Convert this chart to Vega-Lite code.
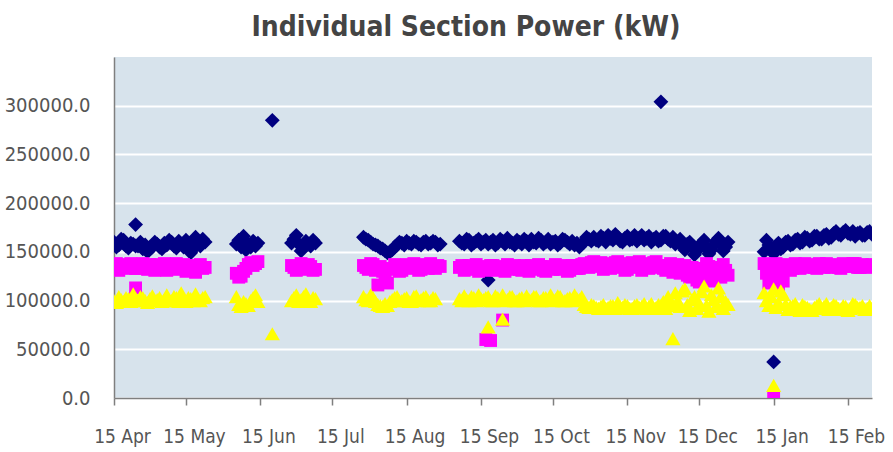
{
  "$schema": "https://vega.github.io/schema/vega-lite/v6.json",
  "width": 758,
  "height": 341,
  "autosize": {"type": "none"},
  "padding": {"left": 114, "top": 57, "right": 21, "bottom": 54},
  "background": "white",
  "title": {"text": "Individual Section Power (kW)", "font": "DejaVu Sans Condensed, DejaVu Sans, sans-serif", "fontSize": 28, "fontWeight": "bold", "color": "#444444", "anchor": "middle", "dx": -27, "offset": 15},
  "config": {"view": {"fill": "#d7e3ec", "stroke": null}},
  "datasets": {
    "navy": [
{"d":"2008-04-15","v":160000},{"d":"2008-04-16","v":155000},{"d":"2008-04-17","v":157000},{"d":"2008-04-18","v":163000},{"d":"2008-04-19","v":162000},{"d":"2008-04-20","v":156000},{"d":"2008-04-21","v":154000},{"d":"2008-04-22","v":159000},{"d":"2008-04-23","v":158000},{"d":"2008-04-24","v":156000},{"d":"2008-04-24","v":178000},{"d":"2008-04-25","v":156000},{"d":"2008-04-26","v":160000},{"d":"2008-04-27","v":153000},{"d":"2008-04-28","v":157000},{"d":"2008-04-29","v":150000},{"d":"2008-04-30","v":153000},
{"d":"2008-05-01","v":155000},{"d":"2008-05-02","v":160000},{"d":"2008-05-03","v":158000},{"d":"2008-05-04","v":155000},{"d":"2008-05-05","v":153000},{"d":"2008-05-06","v":159000},{"d":"2008-05-07","v":157000},{"d":"2008-05-08","v":162000},{"d":"2008-05-09","v":160000},{"d":"2008-05-10","v":156000},{"d":"2008-05-11","v":154000},{"d":"2008-05-12","v":161000},{"d":"2008-05-13","v":158000},{"d":"2008-05-14","v":155000},{"d":"2008-05-15","v":162000},{"d":"2008-05-16","v":157000},{"d":"2008-05-17","v":149000},{"d":"2008-05-18","v":153000},{"d":"2008-05-19","v":165000},{"d":"2008-05-20","v":160000},{"d":"2008-05-21","v":156000},{"d":"2008-05-22","v":163000},{"d":"2008-05-23","v":160000},
{"d":"2008-06-05","v":158000},{"d":"2008-06-06","v":162000},{"d":"2008-06-07","v":155000},{"d":"2008-06-08","v":166000},{"d":"2008-06-09","v":152000},{"d":"2008-06-10","v":157000},{"d":"2008-06-11","v":155000},{"d":"2008-06-12","v":161000},{"d":"2008-06-13","v":156000},{"d":"2008-06-14","v":159000},{"d":"2008-06-20","v":285000},
{"d":"2008-06-28","v":159000},{"d":"2008-06-29","v":163000},{"d":"2008-06-30","v":167000},{"d":"2008-07-01","v":158000},{"d":"2008-07-02","v":151000},{"d":"2008-07-03","v":155000},{"d":"2008-07-04","v":161000},{"d":"2008-07-05","v":158000},{"d":"2008-07-06","v":156000},{"d":"2008-07-07","v":162000},{"d":"2008-07-08","v":159000},
{"d":"2008-07-28","v":165000},{"d":"2008-07-29","v":163000},{"d":"2008-07-30","v":162000},{"d":"2008-07-31","v":160000},{"d":"2008-08-01","v":158000},{"d":"2008-08-02","v":157000},{"d":"2008-08-03","v":156000},{"d":"2008-08-04","v":154000},{"d":"2008-08-05","v":153000},{"d":"2008-08-06","v":151000},{"d":"2008-08-07","v":149000},{"d":"2008-08-08","v":150000},{"d":"2008-08-09","v":152000},{"d":"2008-08-10","v":155000},{"d":"2008-08-11","v":157000},{"d":"2008-08-12","v":160000},{"d":"2008-08-13","v":159000},{"d":"2008-08-14","v":157000},{"d":"2008-08-15","v":161000},{"d":"2008-08-16","v":159000},{"d":"2008-08-17","v":158000},{"d":"2008-08-18","v":161000},{"d":"2008-08-19","v":160000},{"d":"2008-08-20","v":158000},{"d":"2008-08-21","v":157000},{"d":"2008-08-22","v":160000},{"d":"2008-08-23","v":161000},{"d":"2008-08-24","v":158000},{"d":"2008-08-25","v":159000},{"d":"2008-08-26","v":161000},{"d":"2008-08-27","v":160000},{"d":"2008-08-28","v":157000},{"d":"2008-08-29","v":158000},
{"d":"2008-09-06","v":161000},{"d":"2008-09-07","v":159000},{"d":"2008-09-08","v":158000},{"d":"2008-09-09","v":163000},{"d":"2008-09-10","v":162000},{"d":"2008-09-11","v":157000},{"d":"2008-09-12","v":159000},{"d":"2008-09-13","v":161000},{"d":"2008-09-14","v":163000},{"d":"2008-09-15","v":158000},{"d":"2008-09-16","v":160000},{"d":"2008-09-17","v":162000},{"d":"2008-09-18","v":158000},{"d":"2008-09-18","v":121000},{"d":"2008-09-19","v":160000},{"d":"2008-09-20","v":162000},{"d":"2008-09-21","v":157000},{"d":"2008-09-22","v":159000},{"d":"2008-09-23","v":163000},{"d":"2008-09-24","v":161000},{"d":"2008-09-25","v":158000},{"d":"2008-09-26","v":164000},{"d":"2008-09-27","v":160000},{"d":"2008-09-28","v":159000},{"d":"2008-09-29","v":157000},{"d":"2008-09-30","v":162000},
{"d":"2008-10-01","v":160000},{"d":"2008-10-02","v":158000},{"d":"2008-10-03","v":163000},{"d":"2008-10-04","v":161000},{"d":"2008-10-05","v":157000},{"d":"2008-10-06","v":163000},{"d":"2008-10-07","v":160000},{"d":"2008-10-08","v":159000},{"d":"2008-10-09","v":164000},{"d":"2008-10-10","v":162000},{"d":"2008-10-11","v":158000},{"d":"2008-10-12","v":160000},{"d":"2008-10-13","v":163000},{"d":"2008-10-14","v":158000},{"d":"2008-10-15","v":160000},{"d":"2008-10-16","v":161000},{"d":"2008-10-17","v":157000},{"d":"2008-10-18","v":159000},{"d":"2008-10-19","v":163000},{"d":"2008-10-20","v":162000},{"d":"2008-10-21","v":160000},{"d":"2008-10-22","v":158000},{"d":"2008-10-23","v":161000},{"d":"2008-10-24","v":157000},{"d":"2008-10-25","v":159000},{"d":"2008-10-26","v":155000},{"d":"2008-10-27","v":158000},{"d":"2008-10-28","v":160000},{"d":"2008-10-29","v":165000},{"d":"2008-10-30","v":163000},{"d":"2008-10-31","v":161000},
{"d":"2008-11-01","v":165000},{"d":"2008-11-02","v":162000},{"d":"2008-11-03","v":161000},{"d":"2008-11-04","v":166000},{"d":"2008-11-05","v":164000},{"d":"2008-11-06","v":160000},{"d":"2008-11-07","v":167000},{"d":"2008-11-08","v":164000},{"d":"2008-11-09","v":162000},{"d":"2008-11-10","v":168000},{"d":"2008-11-11","v":165000},{"d":"2008-11-12","v":161000},{"d":"2008-11-13","v":160000},{"d":"2008-11-14","v":164000},{"d":"2008-11-15","v":166000},{"d":"2008-11-16","v":162000},{"d":"2008-11-17","v":163000},{"d":"2008-11-18","v":167000},{"d":"2008-11-19","v":161000},{"d":"2008-11-20","v":164000},{"d":"2008-11-21","v":167000},{"d":"2008-11-22","v":162000},{"d":"2008-11-23","v":164000},{"d":"2008-11-24","v":166000},{"d":"2008-11-25","v":160000},{"d":"2008-11-26","v":163000},{"d":"2008-11-27","v":165000},{"d":"2008-11-28","v":161000},{"d":"2008-11-29","v":162000},{"d":"2008-11-29","v":304000},{"d":"2008-11-30","v":166000},
{"d":"2008-12-01","v":166000},{"d":"2008-12-02","v":163000},{"d":"2008-12-03","v":161000},{"d":"2008-12-04","v":165000},{"d":"2008-12-05","v":158000},{"d":"2008-12-06","v":160000},{"d":"2008-12-07","v":163000},{"d":"2008-12-08","v":156000},{"d":"2008-12-09","v":152000},{"d":"2008-12-10","v":158000},{"d":"2008-12-11","v":160000},{"d":"2008-12-12","v":155000},{"d":"2008-12-13","v":147000},{"d":"2008-12-14","v":151000},{"d":"2008-12-15","v":155000},{"d":"2008-12-16","v":159000},{"d":"2008-12-17","v":162000},{"d":"2008-12-18","v":154000},{"d":"2008-12-19","v":148000},{"d":"2008-12-20","v":152000},{"d":"2008-12-21","v":157000},{"d":"2008-12-22","v":161000},{"d":"2008-12-23","v":164000},{"d":"2008-12-24","v":157000},{"d":"2008-12-25","v":151000},{"d":"2008-12-26","v":155000},{"d":"2008-12-27","v":160000},
{"d":"2009-01-11","v":150000},{"d":"2009-01-12","v":162000},{"d":"2009-01-13","v":157000},{"d":"2009-01-14","v":152000},{"d":"2009-01-15","v":148000},{"d":"2009-01-15","v":37000},{"d":"2009-01-16","v":156000},{"d":"2009-01-17","v":159000},{"d":"2009-01-18","v":153000},{"d":"2009-01-19","v":155000},{"d":"2009-01-20","v":160000},{"d":"2009-01-21","v":161000},{"d":"2009-01-22","v":157000},{"d":"2009-01-23","v":158000},{"d":"2009-01-24","v":162000},{"d":"2009-01-25","v":163000},{"d":"2009-01-26","v":159000},{"d":"2009-01-27","v":160000},{"d":"2009-01-28","v":165000},{"d":"2009-01-29","v":164000},{"d":"2009-01-30","v":161000},{"d":"2009-01-31","v":162000},
{"d":"2009-02-01","v":166000},{"d":"2009-02-02","v":166000},{"d":"2009-02-03","v":163000},{"d":"2009-02-04","v":163000},{"d":"2009-02-05","v":167000},{"d":"2009-02-06","v":168000},{"d":"2009-02-07","v":164000},{"d":"2009-02-08","v":165000},{"d":"2009-02-09","v":169000},{"d":"2009-02-10","v":171000},{"d":"2009-02-11","v":168000},{"d":"2009-02-12","v":167000},{"d":"2009-02-13","v":170000},{"d":"2009-02-14","v":172000},{"d":"2009-02-15","v":169000},{"d":"2009-02-16","v":168000},{"d":"2009-02-17","v":171000},{"d":"2009-02-18","v":166000},{"d":"2009-02-19","v":169000},{"d":"2009-02-20","v":170000},{"d":"2009-02-21","v":167000},{"d":"2009-02-22","v":167000},{"d":"2009-02-23","v":170000},{"d":"2009-02-24","v":171000},{"d":"2009-02-25","v":168000}
    ],
    "magenta": [
{"d":"2008-04-15","v":135000},{"d":"2008-04-16","v":138000},{"d":"2008-04-17","v":131000},{"d":"2008-04-18","v":136000},{"d":"2008-04-19","v":137000},{"d":"2008-04-20","v":133000},{"d":"2008-04-21","v":134000},{"d":"2008-04-22","v":138000},{"d":"2008-04-23","v":136000},{"d":"2008-04-24","v":133000},{"d":"2008-04-24","v":113000},{"d":"2008-04-25","v":133000},{"d":"2008-04-26","v":136000},{"d":"2008-04-27","v":138000},{"d":"2008-04-28","v":134000},{"d":"2008-04-29","v":132000},{"d":"2008-04-30","v":137000},
{"d":"2008-05-01","v":135000},{"d":"2008-05-02","v":131000},{"d":"2008-05-03","v":137000},{"d":"2008-05-04","v":135000},{"d":"2008-05-05","v":134000},{"d":"2008-05-06","v":138000},{"d":"2008-05-07","v":131000},{"d":"2008-05-08","v":134000},{"d":"2008-05-09","v":136000},{"d":"2008-05-10","v":132000},{"d":"2008-05-11","v":138000},{"d":"2008-05-12","v":135000},{"d":"2008-05-13","v":133000},{"d":"2008-05-14","v":137000},{"d":"2008-05-15","v":130000},{"d":"2008-05-16","v":134000},{"d":"2008-05-17","v":136000},{"d":"2008-05-18","v":131000},{"d":"2008-05-19","v":129000},{"d":"2008-05-20","v":135000},{"d":"2008-05-21","v":137000},{"d":"2008-05-22","v":133000},{"d":"2008-05-23","v":134000},
{"d":"2008-06-05","v":128000},{"d":"2008-06-06","v":124000},{"d":"2008-06-07","v":125000},{"d":"2008-06-08","v":130000},{"d":"2008-06-09","v":133000},{"d":"2008-06-10","v":137000},{"d":"2008-06-11","v":139000},{"d":"2008-06-12","v":136000},{"d":"2008-06-13","v":138000},{"d":"2008-06-14","v":140000},
{"d":"2008-06-28","v":136000},{"d":"2008-06-29","v":134000},{"d":"2008-06-30","v":131000},{"d":"2008-07-01","v":135000},{"d":"2008-07-02","v":138000},{"d":"2008-07-03","v":132000},{"d":"2008-07-04","v":133000},{"d":"2008-07-05","v":137000},{"d":"2008-07-06","v":135000},{"d":"2008-07-07","v":131000},{"d":"2008-07-08","v":132000},
{"d":"2008-07-28","v":136000},{"d":"2008-07-29","v":134000},{"d":"2008-07-30","v":132000},{"d":"2008-07-31","v":138000},{"d":"2008-08-01","v":137000},{"d":"2008-08-02","v":131000},{"d":"2008-08-03","v":116000},{"d":"2008-08-04","v":135000},{"d":"2008-08-05","v":130000},{"d":"2008-08-06","v":120000},{"d":"2008-08-07","v":118000},{"d":"2008-08-08","v":132000},{"d":"2008-08-09","v":133000},{"d":"2008-08-10","v":137000},{"d":"2008-08-11","v":135000},{"d":"2008-08-12","v":130000},{"d":"2008-08-13","v":131000},{"d":"2008-08-14","v":136000},{"d":"2008-08-15","v":137000},{"d":"2008-08-16","v":133000},{"d":"2008-08-17","v":134000},{"d":"2008-08-18","v":138000},{"d":"2008-08-19","v":136000},{"d":"2008-08-20","v":131000},{"d":"2008-08-21","v":132000},{"d":"2008-08-22","v":137000},{"d":"2008-08-23","v":135000},{"d":"2008-08-24","v":133000},{"d":"2008-08-25","v":138000},{"d":"2008-08-26","v":134000},{"d":"2008-08-27","v":133000},{"d":"2008-08-28","v":136000},{"d":"2008-08-29","v":135000},
{"d":"2008-09-06","v":134000},{"d":"2008-09-07","v":136000},{"d":"2008-09-08","v":131000},{"d":"2008-09-09","v":135000},{"d":"2008-09-10","v":136000},{"d":"2008-09-11","v":132000},{"d":"2008-09-12","v":133000},{"d":"2008-09-13","v":137000},{"d":"2008-09-14","v":130000},{"d":"2008-09-15","v":134000},{"d":"2008-09-16","v":135000},{"d":"2008-09-17","v":131000},{"d":"2008-09-17","v":60000},{"d":"2008-09-18","v":132000},{"d":"2008-09-19","v":136000},{"d":"2008-09-19","v":59000},{"d":"2008-09-20","v":136000},{"d":"2008-09-21","v":133000},{"d":"2008-09-22","v":131000},{"d":"2008-09-23","v":135000},{"d":"2008-09-24","v":134000},{"d":"2008-09-24","v":80000},{"d":"2008-09-25","v":130000},{"d":"2008-09-26","v":137000},{"d":"2008-09-27","v":134000},{"d":"2008-09-28","v":132000},{"d":"2008-09-29","v":136000},{"d":"2008-09-30","v":135000},
{"d":"2008-10-01","v":132000},{"d":"2008-10-02","v":131000},{"d":"2008-10-03","v":136000},{"d":"2008-10-04","v":134000},{"d":"2008-10-05","v":130000},{"d":"2008-10-06","v":136000},{"d":"2008-10-07","v":133000},{"d":"2008-10-08","v":132000},{"d":"2008-10-09","v":137000},{"d":"2008-10-10","v":135000},{"d":"2008-10-11","v":131000},{"d":"2008-10-12","v":130000},{"d":"2008-10-13","v":135000},{"d":"2008-10-14","v":134000},{"d":"2008-10-15","v":132000},{"d":"2008-10-16","v":137000},{"d":"2008-10-17","v":134000},{"d":"2008-10-18","v":132000},{"d":"2008-10-19","v":136000},{"d":"2008-10-20","v":135000},{"d":"2008-10-21","v":130000},{"d":"2008-10-22","v":131000},{"d":"2008-10-23","v":136000},{"d":"2008-10-24","v":136000},{"d":"2008-10-25","v":133000},{"d":"2008-10-26","v":133000},{"d":"2008-10-27","v":137000},{"d":"2008-10-28","v":138000},{"d":"2008-10-29","v":135000},{"d":"2008-10-30","v":134000},{"d":"2008-10-31","v":139000},
{"d":"2008-11-01","v":140000},{"d":"2008-11-02","v":136000},{"d":"2008-11-03","v":135000},{"d":"2008-11-04","v":139000},{"d":"2008-11-05","v":132000},{"d":"2008-11-06","v":137000},{"d":"2008-11-07","v":138000},{"d":"2008-11-08","v":133000},{"d":"2008-11-09","v":134000},{"d":"2008-11-10","v":139000},{"d":"2008-11-11","v":140000},{"d":"2008-11-12","v":135000},{"d":"2008-11-13","v":136000},{"d":"2008-11-14","v":131000},{"d":"2008-11-15","v":132000},{"d":"2008-11-16","v":138000},{"d":"2008-11-17","v":139000},{"d":"2008-11-18","v":134000},{"d":"2008-11-19","v":135000},{"d":"2008-11-20","v":140000},{"d":"2008-11-21","v":131000},{"d":"2008-11-22","v":136000},{"d":"2008-11-23","v":138000},{"d":"2008-11-24","v":133000},{"d":"2008-11-25","v":134000},{"d":"2008-11-26","v":139000},{"d":"2008-11-27","v":140000},{"d":"2008-11-28","v":135000},{"d":"2008-11-29","v":136000},{"d":"2008-11-30","v":133000},
{"d":"2008-12-01","v":131000},{"d":"2008-12-02","v":136000},{"d":"2008-12-03","v":138000},{"d":"2008-12-04","v":129000},{"d":"2008-12-05","v":133000},{"d":"2008-12-06","v":137000},{"d":"2008-12-07","v":128000},{"d":"2008-12-08","v":131000},{"d":"2008-12-09","v":136000},{"d":"2008-12-10","v":126000},{"d":"2008-12-11","v":124000},{"d":"2008-12-12","v":134000},{"d":"2008-12-13","v":132000},{"d":"2008-12-14","v":121000},{"d":"2008-12-15","v":119000},{"d":"2008-12-16","v":133000},{"d":"2008-12-17","v":127000},{"d":"2008-12-18","v":138000},{"d":"2008-12-19","v":135000},{"d":"2008-12-20","v":120000},{"d":"2008-12-21","v":122000},{"d":"2008-12-22","v":134000},{"d":"2008-12-23","v":130000},{"d":"2008-12-24","v":124000},{"d":"2008-12-25","v":137000},{"d":"2008-12-26","v":131000},{"d":"2008-12-27","v":126000},
{"d":"2009-01-11","v":138000},{"d":"2009-01-12","v":128000},{"d":"2009-01-13","v":118000},{"d":"2009-01-14","v":134000},{"d":"2009-01-15","v":125000},{"d":"2009-01-15","v":1000},{"d":"2009-01-16","v":138000},{"d":"2009-01-17","v":116000},{"d":"2009-01-18","v":129000},{"d":"2009-01-19","v":120000},{"d":"2009-01-20","v":137000},{"d":"2009-01-21","v":135000},{"d":"2009-01-22","v":131000},{"d":"2009-01-23","v":133000},{"d":"2009-01-24","v":138000},{"d":"2009-01-25","v":137000},{"d":"2009-01-26","v":133000},{"d":"2009-01-27","v":136000},{"d":"2009-01-28","v":138000},{"d":"2009-01-29","v":134000},{"d":"2009-01-30","v":136000},{"d":"2009-01-31","v":137000},
{"d":"2009-02-01","v":134000},{"d":"2009-02-02","v":133000},{"d":"2009-02-03","v":138000},{"d":"2009-02-04","v":136000},{"d":"2009-02-05","v":134000},{"d":"2009-02-06","v":138000},{"d":"2009-02-07","v":135000},{"d":"2009-02-08","v":134000},{"d":"2009-02-09","v":137000},{"d":"2009-02-10","v":136000},{"d":"2009-02-11","v":134000},{"d":"2009-02-12","v":133000},{"d":"2009-02-13","v":138000},{"d":"2009-02-14","v":137000},{"d":"2009-02-15","v":135000},{"d":"2009-02-16","v":135000},{"d":"2009-02-17","v":138000},{"d":"2009-02-18","v":138000},{"d":"2009-02-19","v":134000},{"d":"2009-02-20","v":134000},{"d":"2009-02-21","v":137000},{"d":"2009-02-22","v":136000},{"d":"2009-02-23","v":134000},{"d":"2009-02-24","v":135000},{"d":"2009-02-25","v":137000}
    ],
    "yellow": [
{"d":"2008-04-15","v":100000},{"d":"2008-04-16","v":98000},{"d":"2008-04-17","v":104000},{"d":"2008-04-18","v":101000},{"d":"2008-04-19","v":99000},{"d":"2008-04-20","v":103000},{"d":"2008-04-21","v":102000},{"d":"2008-04-22","v":99000},{"d":"2008-04-23","v":107000},{"d":"2008-04-24","v":101000},{"d":"2008-04-25","v":100000},{"d":"2008-04-26","v":104000},{"d":"2008-04-27","v":103000},{"d":"2008-04-28","v":100000},{"d":"2008-04-29","v":98000},{"d":"2008-04-30","v":102000},
{"d":"2008-05-01","v":105000},{"d":"2008-05-02","v":100000},{"d":"2008-05-03","v":101000},{"d":"2008-05-04","v":103000},{"d":"2008-05-05","v":99000},{"d":"2008-05-06","v":101000},{"d":"2008-05-07","v":106000},{"d":"2008-05-08","v":100000},{"d":"2008-05-09","v":100000},{"d":"2008-05-10","v":104000},{"d":"2008-05-11","v":103000},{"d":"2008-05-12","v":99000},{"d":"2008-05-13","v":108000},{"d":"2008-05-14","v":101000},{"d":"2008-05-15","v":99000},{"d":"2008-05-16","v":103000},{"d":"2008-05-17","v":102000},{"d":"2008-05-18","v":100000},{"d":"2008-05-19","v":107000},{"d":"2008-05-20","v":101000},{"d":"2008-05-21","v":100000},{"d":"2008-05-22","v":103000},{"d":"2008-05-23","v":104000},
{"d":"2008-06-05","v":104000},{"d":"2008-06-06","v":96000},{"d":"2008-06-07","v":94000},{"d":"2008-06-08","v":99000},{"d":"2008-06-09","v":97000},{"d":"2008-06-10","v":95000},{"d":"2008-06-11","v":100000},{"d":"2008-06-12","v":103000},{"d":"2008-06-13","v":106000},{"d":"2008-06-14","v":99000},{"d":"2008-06-20","v":66000},
{"d":"2008-06-28","v":100000},{"d":"2008-06-29","v":103000},{"d":"2008-06-30","v":106000},{"d":"2008-07-01","v":99000},{"d":"2008-07-02","v":101000},{"d":"2008-07-03","v":104000},{"d":"2008-07-04","v":107000},{"d":"2008-07-05","v":100000},{"d":"2008-07-06","v":99000},{"d":"2008-07-07","v":103000},{"d":"2008-07-08","v":102000},
{"d":"2008-07-28","v":104000},{"d":"2008-07-29","v":101000},{"d":"2008-07-30","v":100000},{"d":"2008-07-31","v":106000},{"d":"2008-08-01","v":103000},{"d":"2008-08-02","v":99000},{"d":"2008-08-03","v":96000},{"d":"2008-08-04","v":95000},{"d":"2008-08-05","v":94000},{"d":"2008-08-06","v":97000},{"d":"2008-08-07","v":95000},{"d":"2008-08-08","v":99000},{"d":"2008-08-09","v":101000},{"d":"2008-08-10","v":103000},{"d":"2008-08-11","v":104000},{"d":"2008-08-12","v":100000},{"d":"2008-08-13","v":100000},{"d":"2008-08-14","v":102000},{"d":"2008-08-15","v":103000},{"d":"2008-08-16","v":99000},{"d":"2008-08-17","v":99000},{"d":"2008-08-18","v":104000},{"d":"2008-08-19","v":105000},{"d":"2008-08-20","v":100000},{"d":"2008-08-21","v":101000},{"d":"2008-08-22","v":103000},{"d":"2008-08-23","v":104000},{"d":"2008-08-24","v":100000},{"d":"2008-08-25","v":100000},{"d":"2008-08-26","v":103000},{"d":"2008-08-27","v":102000},
{"d":"2008-09-06","v":102000},{"d":"2008-09-07","v":100000},{"d":"2008-09-08","v":105000},{"d":"2008-09-09","v":101000},{"d":"2008-09-10","v":100000},{"d":"2008-09-11","v":104000},{"d":"2008-09-12","v":103000},{"d":"2008-09-13","v":100000},{"d":"2008-09-14","v":106000},{"d":"2008-09-15","v":102000},{"d":"2008-09-16","v":101000},{"d":"2008-09-17","v":103000},{"d":"2008-09-18","v":104000},{"d":"2008-09-18","v":73000},{"d":"2008-09-19","v":100000},{"d":"2008-09-20","v":100000},{"d":"2008-09-21","v":105000},{"d":"2008-09-22","v":103000},{"d":"2008-09-23","v":101000},{"d":"2008-09-24","v":106000},{"d":"2008-09-24","v":81000},{"d":"2008-09-25","v":100000},{"d":"2008-09-26","v":101000},{"d":"2008-09-27","v":104000},{"d":"2008-09-28","v":104000},{"d":"2008-09-29","v":100000},{"d":"2008-09-30","v":100000},
{"d":"2008-10-01","v":102000},{"d":"2008-10-02","v":103000},{"d":"2008-10-03","v":100000},{"d":"2008-10-04","v":105000},{"d":"2008-10-05","v":101000},{"d":"2008-10-06","v":101000},{"d":"2008-10-07","v":104000},{"d":"2008-10-08","v":104000},{"d":"2008-10-09","v":100000},{"d":"2008-10-10","v":100000},{"d":"2008-10-11","v":103000},{"d":"2008-10-12","v":103000},{"d":"2008-10-13","v":101000},{"d":"2008-10-14","v":106000},{"d":"2008-10-15","v":100000},{"d":"2008-10-16","v":101000},{"d":"2008-10-17","v":105000},{"d":"2008-10-18","v":104000},{"d":"2008-10-19","v":100000},{"d":"2008-10-20","v":100000},{"d":"2008-10-21","v":102000},{"d":"2008-10-22","v":103000},{"d":"2008-10-23","v":100000},{"d":"2008-10-24","v":106000},{"d":"2008-10-25","v":102000},{"d":"2008-10-26","v":101000},{"d":"2008-10-27","v":104000},{"d":"2008-10-28","v":96000},{"d":"2008-10-29","v":94000},{"d":"2008-10-30","v":93000},{"d":"2008-10-31","v":96000},
{"d":"2008-11-01","v":95000},{"d":"2008-11-02","v":93000},{"d":"2008-11-03","v":92000},{"d":"2008-11-04","v":94000},{"d":"2008-11-05","v":96000},{"d":"2008-11-06","v":92000},{"d":"2008-11-07","v":93000},{"d":"2008-11-08","v":95000},{"d":"2008-11-09","v":95000},{"d":"2008-11-10","v":92000},{"d":"2008-11-11","v":98000},{"d":"2008-11-12","v":94000},{"d":"2008-11-13","v":93000},{"d":"2008-11-14","v":96000},{"d":"2008-11-15","v":95000},{"d":"2008-11-16","v":92000},{"d":"2008-11-17","v":92000},{"d":"2008-11-18","v":95000},{"d":"2008-11-19","v":96000},{"d":"2008-11-20","v":93000},{"d":"2008-11-21","v":94000},{"d":"2008-11-22","v":97000},{"d":"2008-11-23","v":92000},{"d":"2008-11-24","v":94000},{"d":"2008-11-25","v":97000},{"d":"2008-11-26","v":92000},{"d":"2008-11-27","v":93000},{"d":"2008-11-28","v":96000},{"d":"2008-11-29","v":95000},{"d":"2008-11-30","v":99000},
{"d":"2008-12-01","v":92000},{"d":"2008-12-02","v":104000},{"d":"2008-12-03","v":99000},{"d":"2008-12-04","v":95000},{"d":"2008-12-04","v":61000},{"d":"2008-12-05","v":108000},{"d":"2008-12-06","v":100000},{"d":"2008-12-07","v":94000},{"d":"2008-12-08","v":110000},{"d":"2008-12-09","v":112000},{"d":"2008-12-10","v":96000},{"d":"2008-12-11","v":90000},{"d":"2008-12-12","v":101000},{"d":"2008-12-13","v":104000},{"d":"2008-12-14","v":92000},{"d":"2008-12-15","v":97000},{"d":"2008-12-16","v":109000},{"d":"2008-12-17","v":115000},{"d":"2008-12-18","v":95000},{"d":"2008-12-19","v":89000},{"d":"2008-12-20","v":106000},{"d":"2008-12-21","v":101000},{"d":"2008-12-22","v":94000},{"d":"2008-12-23","v":113000},{"d":"2008-12-24","v":104000},{"d":"2008-12-25","v":92000},{"d":"2008-12-26","v":99000},{"d":"2008-12-27","v":96000},
{"d":"2009-01-11","v":108000},{"d":"2009-01-12","v":100000},{"d":"2009-01-13","v":95000},{"d":"2009-01-14","v":104000},{"d":"2009-01-15","v":112000},{"d":"2009-01-15","v":13000},{"d":"2009-01-16","v":93000},{"d":"2009-01-17","v":98000},{"d":"2009-01-18","v":110000},{"d":"2009-01-19","v":106000},{"d":"2009-01-20","v":96000},{"d":"2009-01-21","v":91000},{"d":"2009-01-22","v":94000},{"d":"2009-01-23","v":95000},{"d":"2009-01-24","v":97000},{"d":"2009-01-25","v":92000},{"d":"2009-01-26","v":90000},{"d":"2009-01-27","v":96000},{"d":"2009-01-28","v":94000},{"d":"2009-01-29","v":93000},{"d":"2009-01-30","v":91000},{"d":"2009-01-31","v":90000},
{"d":"2009-02-01","v":93000},{"d":"2009-02-02","v":95000},{"d":"2009-02-03","v":97000},{"d":"2009-02-04","v":92000},{"d":"2009-02-05","v":94000},{"d":"2009-02-06","v":97000},{"d":"2009-02-07","v":91000},{"d":"2009-02-08","v":93000},{"d":"2009-02-09","v":96000},{"d":"2009-02-10","v":95000},{"d":"2009-02-11","v":92000},{"d":"2009-02-12","v":91000},{"d":"2009-02-13","v":95000},{"d":"2009-02-14","v":94000},{"d":"2009-02-15","v":90000},{"d":"2009-02-16","v":92000},{"d":"2009-02-17","v":97000},{"d":"2009-02-18","v":96000},{"d":"2009-02-19","v":93000},{"d":"2009-02-20","v":93000},{"d":"2009-02-21","v":95000},{"d":"2009-02-22","v":91000},{"d":"2009-02-23","v":92000},{"d":"2009-02-24","v":95000},{"d":"2009-02-25","v":92000}
    ]
  },
  "encoding": {
    "x": {
      "field": "d", "type": "temporal",
      "scale": {"type": "utc", "domain": [{"year": 2008, "month": 4, "date": 15, "utc": true}, {"year": 2009, "month": 2, "date": 25, "utc": true}]},
      "axis": {
        "title": null, "grid": false,
        "labelExpr": "utcFormat(datum.value, '%d %b')",
        "values": [
          {"year": 2008, "month": 4, "date": 15, "utc": true}, {"year": 2008, "month": 5, "date": 15, "utc": true}, {"year": 2008, "month": 6, "date": 15, "utc": true}, {"year": 2008, "month": 7, "date": 15, "utc": true}, {"year": 2008, "month": 8, "date": 15, "utc": true}, {"year": 2008, "month": 9, "date": 15, "utc": true}, {"year": 2008, "month": 10, "date": 15, "utc": true}, {"year": 2008, "month": 11, "date": 15, "utc": true}, {"year": 2008, "month": 12, "date": 15, "utc": true}, {"year": 2009, "month": 1, "date": 15, "utc": true}, {"year": 2009, "month": 2, "date": 15, "utc": true}
        ],
        "domainColor": "#7f7f7f", "domainWidth": 1.5, "tickColor": "#7f7f7f", "tickWidth": 1.5, "tickSize": 7,
        "labelFont": "DejaVu Sans Condensed, DejaVu Sans, sans-serif", "labelFontSize": 19, "labelColor": "#555555",
        "labelPadding": 22, "labelOffset": 8, "labelOverlap": false, "labelFlush": false
      }
    },
    "y": {
      "field": "v", "type": "quantitative",
      "scale": {"domain": [0, 350000], "nice": false, "zero": true},
      "axis": {
        "title": null, "values": [0, 50000, 100000, 150000, 200000, 250000, 300000], "format": ".1f",
        "grid": true, "gridColor": "#ffffff", "gridWidth": 2, "ticks": false,
        "domainColor": "#7f7f7f", "domainWidth": 1.5,
        "labelFont": "DejaVu Sans Condensed, DejaVu Sans, sans-serif", "labelFontSize": 20, "labelColor": "#555555",
        "labelPadding": 24
      }
    }
  },
  "layer": [
    {"data": {"name": "navy"}, "mark": {"type": "point", "shape": "diamond", "filled": true, "size": 220, "color": "#000080", "opacity": 1, "clip": true}},
    {"data": {"name": "magenta"}, "mark": {"type": "point", "shape": "square", "filled": true, "size": 165, "color": "#ff00ff", "opacity": 1, "clip": true}},
    {"data": {"name": "yellow"}, "mark": {"type": "point", "shape": "triangle-up", "filled": true, "size": 230, "color": "#ffff00", "opacity": 1, "clip": true}}
  ]
}
